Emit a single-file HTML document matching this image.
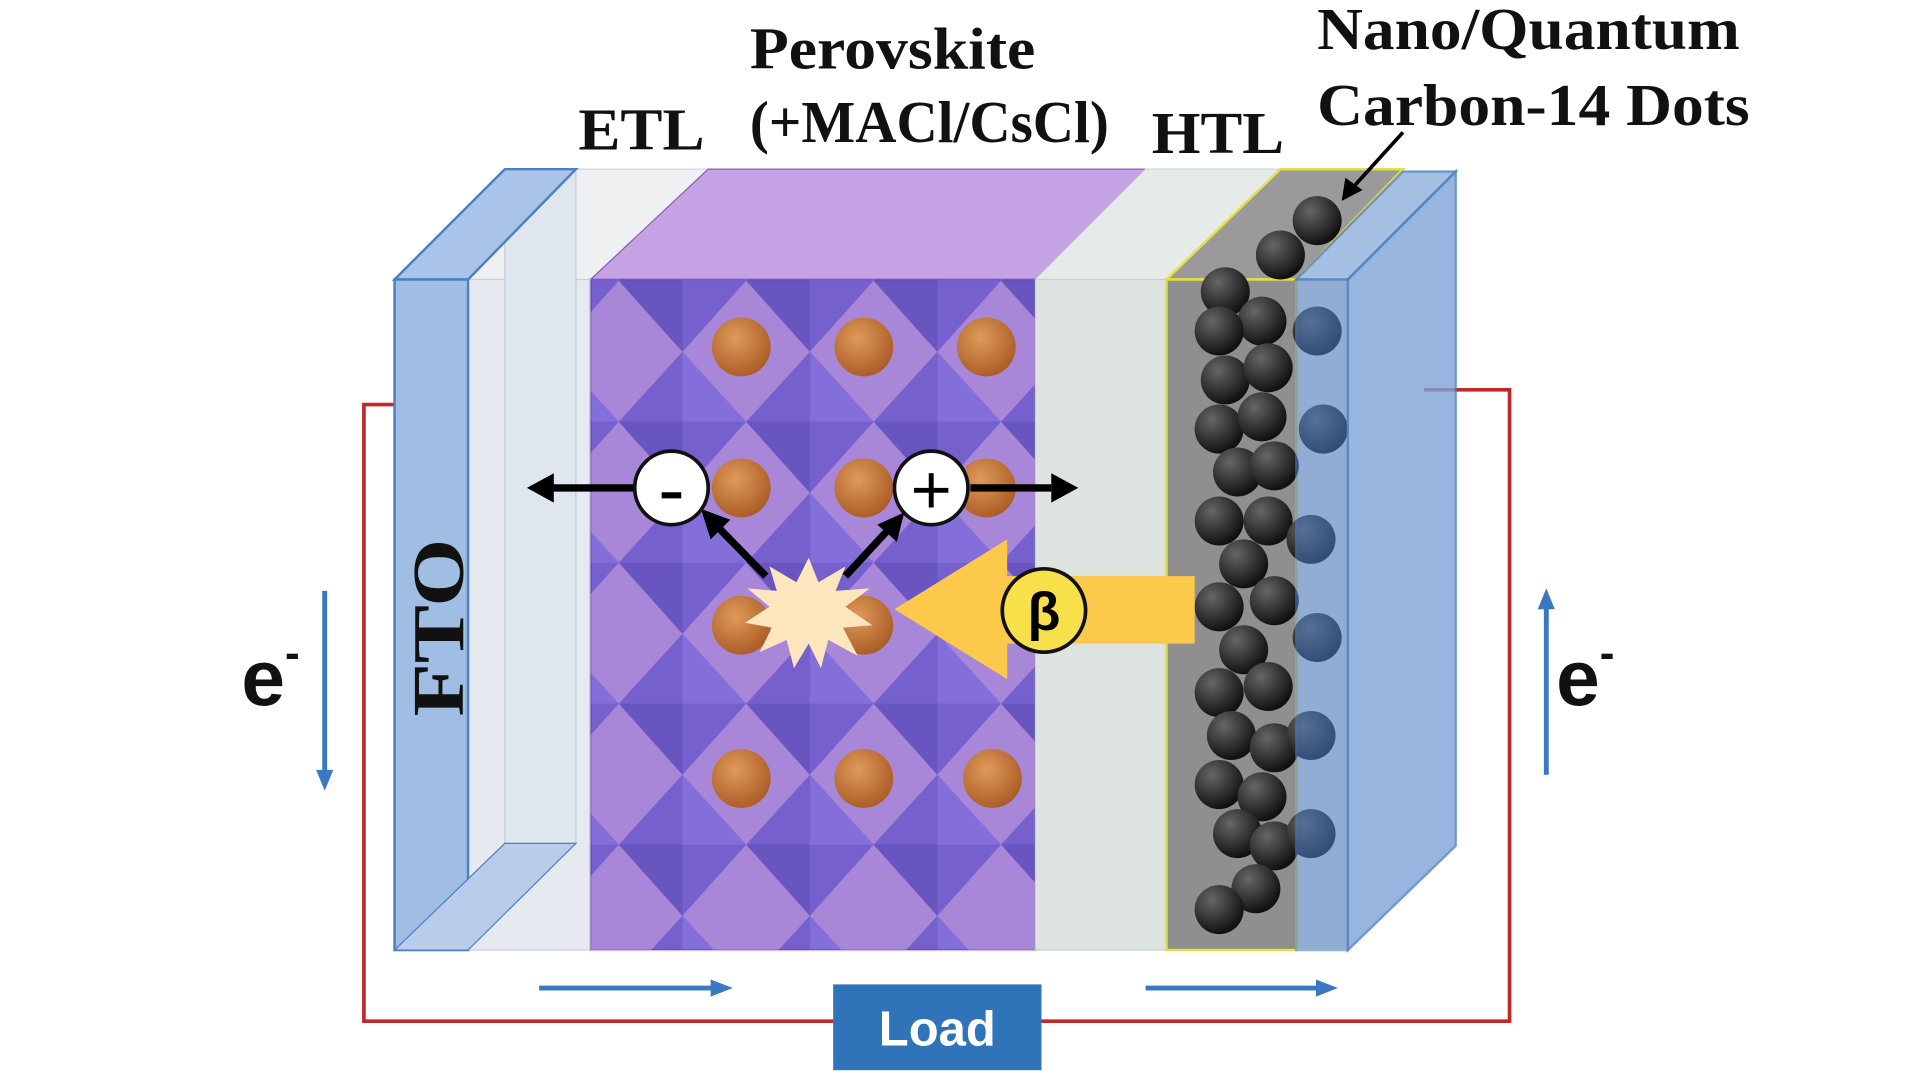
<!DOCTYPE html>
<html><head><meta charset="utf-8"><style>
html,body{margin:0;padding:0;background:#fff;}
svg{display:block;}
</style></head><body>
<svg width="1920" height="1080" viewBox="0 0 1567 881" preserveAspectRatio="none" xmlns="http://www.w3.org/2000/svg">
<defs>
<pattern id="oct" x="505" y="172" width="104" height="115" patternUnits="userSpaceOnUse">
<rect width="104" height="115" fill="#a586d8"/>
<polygon points="52,0 104,57 52,115 0,57" fill="#5b4ec9"/>
<polygon points="52,0 104,57 52,57" fill="#6f63dc"/>
<polygon points="0,57 52,57 52,115" fill="#4a3eb5"/>
</pattern>
<radialGradient id="sph" cx="0.4" cy="0.35" r="0.7"><stop offset="0" stop-color="#e09a5a"/><stop offset="1" stop-color="#a85a24"/></radialGradient>
<radialGradient id="blk" cx="0.35" cy="0.3" r="0.7"><stop offset="0" stop-color="#666"/><stop offset="1" stop-color="#111"/></radialGradient>
</defs>
<rect width="1567" height="881" fill="#fff"/>
<polyline points="368,330 297,330 297,833 680,833" fill="none" stroke="#c0282a" stroke-width="3"/>
<polyline points="850,833 1232,833 1232,318 1162,318" fill="none" stroke="#c0282a" stroke-width="3"/>
<polygon points="382,228 470,138 578,138 482,228" fill="#eef0f2" stroke="#cfd6dc"/>
<polygon points="482,228 578,138 935,138 845,228" fill="#c4a2e4" stroke="#8a60b8"/>
<polygon points="845,228 935,138 1045,138 952,228" fill="#e6ebe8" stroke="#cfd6dc"/>
<polygon points="952,228 1045,138 1145,138 1058,228" fill="#9a9a9a" stroke="#e8e040" stroke-width="2"/>
<rect x="382" y="228" width="100" height="547" fill="#e6eaf0" stroke="#c9d2dc"/>
<polygon points="412,138 470,138 470,688 412,688" fill="#dfe6ee" stroke="#c0ccd8"/>
<polygon points="322,228 412,138 470,138 382,228" fill="#a9c4e8" stroke="#4f7fc0" stroke-width="2"/>
<rect x="322" y="228" width="60" height="547" fill="#a0bde4" stroke="#4f7fc0" stroke-width="2"/>
<polygon points="322,775 382,775 470,688 412,688" fill="#b7cde9" stroke="#4f7fc0"/>
<rect x="482" y="228" width="363" height="547" fill="url(#oct)"/>
<rect x="482" y="228" width="363" height="547" fill="#b28ad8" opacity="0.3" stroke="#7a4aa8" stroke-width="2"/>
<rect x="845" y="228" width="107" height="547" fill="#dde3df" stroke="#c8d0cc"/>
<rect x="952" y="228" width="106" height="547" fill="#8f8f8f" stroke="#e8e040" stroke-width="2"/>
<g fill="url(#blk)">
<circle cx="1075" cy="180" r="20"/><circle cx="1045" cy="208" r="20"/>
<circle cx="1000" cy="238" r="20"/><circle cx="1030" cy="262" r="20"/><circle cx="995" cy="270" r="20"/>
<circle cx="1000" cy="310" r="20"/><circle cx="1035" cy="300" r="20"/><circle cx="995" cy="350" r="20"/>
<circle cx="1030" cy="340" r="20"/><circle cx="1010" cy="385" r="20"/><circle cx="1040" cy="380" r="20"/>
<circle cx="995" cy="425" r="20"/><circle cx="1035" cy="425" r="20"/><circle cx="1015" cy="460" r="20"/>
<circle cx="995" cy="495" r="20"/><circle cx="1040" cy="490" r="20"/><circle cx="1015" cy="530" r="20"/>
<circle cx="995" cy="565" r="20"/><circle cx="1035" cy="560" r="20"/><circle cx="1005" cy="600" r="20"/>
<circle cx="1040" cy="610" r="20"/><circle cx="995" cy="640" r="20"/><circle cx="1030" cy="650" r="20"/>
<circle cx="1010" cy="680" r="20"/><circle cx="1040" cy="690" r="20"/><circle cx="1025" cy="725" r="20"/><circle cx="995" cy="742" r="20"/>
<circle cx="1075" cy="270" r="20"/><circle cx="1080" cy="350" r="20"/><circle cx="1070" cy="440" r="20"/><circle cx="1075" cy="520" r="20"/><circle cx="1070" cy="600" r="20"/><circle cx="1070" cy="680" r="20"/>
</g>
<polygon points="1058,228 1145,140 1188,140 1100,228" fill="#8fb0dc" stroke="#4f7fc0" stroke-width="2" opacity="0.8"/>
<polygon points="1100,228 1188,140 1188,690 1100,775" fill="#7ea3d6" stroke="#4f7fc0" stroke-width="2" opacity="0.8"/>
<rect x="1058" y="228" width="42" height="547" fill="#4a78b8" opacity="0.6" stroke="#4f7fc0" stroke-width="2"/>
<g fill="url(#sph)">
<circle cx="605" cy="283" r="24"/><circle cx="705" cy="283" r="24"/><circle cx="805" cy="283" r="24"/>
<circle cx="605" cy="398" r="24"/><circle cx="705" cy="398" r="24"/><circle cx="805" cy="398" r="24"/>
<circle cx="605" cy="510" r="24"/><circle cx="705" cy="510" r="24"/>
<circle cx="605" cy="635" r="24"/><circle cx="705" cy="635" r="24"/><circle cx="810" cy="635" r="24"/>
</g>
<polygon points="660,455 668,475 690,462 682,482 710,480 690,495 712,510 688,512 700,535 676,522 670,545 660,525 648,545 642,522 620,532 630,512 608,508 628,495 610,480 634,482 628,462 650,475" fill="#fde6be"/>
<polygon points="975,470 822,470 822,440 730,497 822,554 822,525 975,525" fill="#fcc94a"/>
<circle cx="852" cy="498" r="34" fill="#f8e04a" stroke="#111" stroke-width="3"/>
<text x="852" y="514" text-anchor="middle" font-family="Liberation Sans, sans-serif" font-size="44" font-weight="bold">β</text>
<g stroke="#000" stroke-width="6" fill="#000">
<line x1="520" y1="398" x2="450" y2="398"/><polygon points="430,398 452,386 452,410" stroke="none"/>
<line x1="792" y1="398" x2="858" y2="398"/><polygon points="880,398 858,386 858,410" stroke="none"/>
<line x1="625" y1="470" x2="586" y2="430"/><polygon points="572,415 596,424 580,440" stroke="none"/>
<line x1="690" y1="470" x2="725" y2="432"/><polygon points="738,418 732,442 716,428" stroke="none"/>
</g>
<circle cx="548" cy="398" r="30" fill="#fff" stroke="#111" stroke-width="3"/>
<line x1="540" y1="404" x2="556" y2="404" stroke="#000" stroke-width="5"/>
<circle cx="760" cy="398" r="30" fill="#fff" stroke="#111" stroke-width="3"/>
<line x1="746" y1="400" x2="774" y2="400" stroke="#000" stroke-width="4"/><line x1="760" y1="386" x2="760" y2="414" stroke="#000" stroke-width="4"/>
<g stroke="#3a78c4" stroke-width="4" fill="#3a78c4">
<line x1="265" y1="482" x2="265" y2="630"/><polygon points="265,645 258,628 272,628" stroke="none"/>
<line x1="1262" y1="632" x2="1262" y2="495"/><polygon points="1262,480 1255,497 1269,497" stroke="none"/>
<line x1="440" y1="806" x2="582" y2="806"/><polygon points="598,806 580,799 580,813" stroke="none"/>
<line x1="935" y1="806" x2="1076" y2="806"/><polygon points="1092,806 1074,799 1074,813" stroke="none"/>
</g>
<rect x="680" y="803" width="170" height="70" fill="#2f73b8"/>
<text x="765" y="853" text-anchor="middle" font-family="Liberation Sans, sans-serif" font-size="40" font-weight="bold" fill="#fff">Load</text>
<g font-family="Liberation Serif, serif" font-weight="bold" fill="#111" font-size="48">
<text x="612" y="56" textLength="233" lengthAdjust="spacingAndGlyphs">Perovskite</text>
<text x="612" y="116" textLength="293" lengthAdjust="spacingAndGlyphs">(+MACl/CsCl)</text>
<text x="472" y="122" textLength="103" lengthAdjust="spacingAndGlyphs">ETL</text>
<text x="940" y="125" textLength="108" lengthAdjust="spacingAndGlyphs">HTL</text>
<text x="1075" y="40" textLength="345" lengthAdjust="spacingAndGlyphs">Nano/Quantum</text>
<text x="1075" y="102" textLength="353" lengthAdjust="spacingAndGlyphs">Carbon-14 Dots</text>
<text transform="translate(378,512) rotate(-90)" text-anchor="middle" font-size="60" textLength="145" lengthAdjust="spacingAndGlyphs">FTO</text>
</g>
<line x1="1145" y1="108" x2="1105" y2="152" stroke="#000" stroke-width="3"/>
<polygon points="1095,164 1098,145 1112,155" fill="#000"/>
<g font-family="Liberation Sans, sans-serif" font-weight="bold" fill="#111">
<text x="197" y="575" font-size="64">e<tspan font-size="36" dy="-30">-</tspan></text>
<text x="1270" y="575" font-size="64">e<tspan font-size="36" dy="-30">-</tspan></text>
</g>
</svg>
</body></html>
